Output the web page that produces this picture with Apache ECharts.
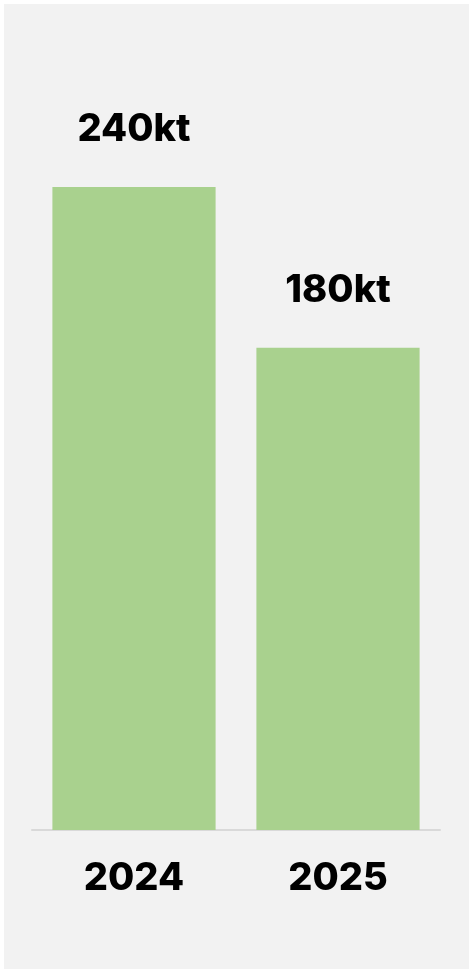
<!DOCTYPE html>
<html>
<head>
<meta charset="utf-8">
<script src="https://cdn.jsdelivr.net/npm/echarts@6/dist/echarts.min.js"></script>
<style>
html,body{margin:0;padding:0;background:#ffffff;}
#c{position:absolute;left:4px;top:4px;width:465px;height:965px;}
</style>
</head>
<body>
<div id="c"></div>
<script>
const categories = ['2024', '2025'];
const values = [240, 180];
const unit = 'kt';

const chart = echarts.init(document.getElementById('c'), null, {renderer: 'canvas'});
chart.setOption({
  backgroundColor: '#f2f2f2',
  animation: false,
  grid: {left: 28, right: 29, top: 183, bottom: 139},
  xAxis: {
    type: 'category',
    data: categories,
    axisLine: {show: true, lineStyle: {color: '#d9d9d9', width: 2}},
    axisTick: {show: false},
    axisLabel: {
      color: '#000', fontFamily: 'Inter', fontWeight: 800, fontSize: 38, margin: 30
    }
  },
  yAxis: {
    type: 'value', min: 0, max: 240,
    show: false, splitLine: {show: false}
  },
  series: [{
    type: 'bar',
    data: values,
    barWidth: '80%',
    itemStyle: {color: '#a9d18e'},
    label: {
      show: true, position: 'top', distance: 38,
      formatter: p => p.value + unit,
      color: '#000', fontFamily: 'Inter', fontWeight: 800, fontSize: 38
    }
  }]
});
</script>
</body>
</html>
